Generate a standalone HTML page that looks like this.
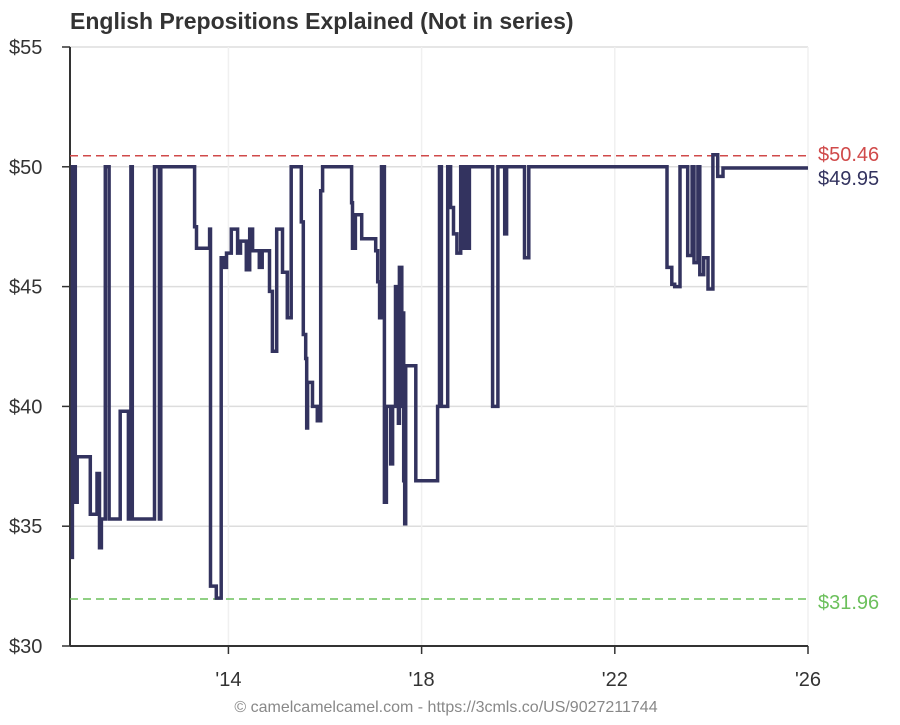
<!DOCTYPE html>
<html><head><meta charset="utf-8"><style>
body{margin:0;background:#fff;font-family:"Liberation Sans",sans-serif}
svg text{font-family:"Liberation Sans",sans-serif}
</style></head><body>
<svg id="chart" width="900" height="720" xmlns="http://www.w3.org/2000/svg">
<text x="70" y="29" font-size="23" font-weight="bold" fill="#333">English Prepositions Explained (Not in series)</text>
<g id="grid"></g>
<g id="axes"></g>
<g id="series"></g>
<text x="446" y="712" font-size="16" fill="#888" text-anchor="middle">© camelcamelcamel.com - https://3cmls.co/US/9027211744</text>
</svg>
<script>
const yTicks=[30,35,40,45,50,55];
const xTickYears=[2014,2018,2022,2026];
const xTickLabels=["'14","'18","'22","'26"];
const dates=[2010.73,2010.77,2010.83,2010.87,2011.14,2011.28,2011.33,2011.37,2011.45,2011.53,2011.76,2011.93,2011.98,2012.01,2012.47,2012.57,2012.60,2013.30,2013.34,2013.61,2013.63,2013.75,2013.85,2013.92,2013.96,2014.06,2014.19,2014.25,2014.37,2014.44,2014.50,2014.64,2014.70,2014.85,2014.91,2015.00,2015.12,2015.22,2015.30,2015.51,2015.55,2015.60,2015.62,2015.64,2015.74,2015.84,2015.91,2015.95,2016.55,2016.57,2016.63,2016.76,2017.05,2017.09,2017.13,2017.17,2017.23,2017.27,2017.36,2017.40,2017.46,2017.52,2017.54,2017.59,2017.61,2017.63,2017.65,2017.67,2017.88,2018.33,2018.37,2018.41,2018.54,2018.60,2018.66,2018.73,2018.81,2018.85,2018.91,2018.95,2018.99,2019.47,2019.58,2019.72,2019.76,2020.13,2020.22,2023.08,2023.18,2023.24,2023.35,2023.51,2023.60,2023.64,2023.72,2023.76,2023.84,2023.93,2024.03,2024.13,2024.24,2026.0];
const prices=[33.7,50,36,37.9,35.5,37.2,34.1,35.3,50,35.3,39.8,35.3,50,35.3,50,35.3,50,47.5,46.6,47.4,32.5,32.0,46.2,45.8,46.4,47.4,46.4,46.9,45.7,47.4,46.5,45.8,46.5,44.8,42.3,47.4,45.6,43.7,50,47.7,43,42,39.1,41,40,39.4,49.0,50,48.5,46.6,48,47.0,46.5,45.2,43.7,50,36,40,37.6,40,45,39.3,45.8,40,43.9,36.9,35.1,41.7,36.9,40,50,40,50,48.3,47.2,46.4,50,46.6,50,46.6,50,40,50,47.2,50,46.2,50,45.8,45.1,45.0,50,46.3,50,46.0,50,45.5,46.2,44.9,50.5,49.6,49.95,49.95];
const highPrice=50.46, lowPrice=31.96, lastPrice=49.95;
const X0=70,X1=808,Y0=646,Y1=47,xMin=2010.72,xMax=2026,yMin=30,yMax=55;
const xs=v=>X0+(v-xMin)/(xMax-xMin)*(X1-X0);
const ys=v=>Y0-(v-yMin)/(yMax-yMin)*(Y0-Y1);
const NS="http://www.w3.org/2000/svg";
function mk(t,a,p){const e=document.createElementNS(NS,t);for(const k in a)e.setAttribute(k,a[k]);p.appendChild(e);return e;}
const grid=document.getElementById('grid'),axes=document.getElementById('axes'),ser=document.getElementById('series');
yTicks.forEach(v=>{
 const l=mk('line',{x1:X0,x2:X1,y1:ys(v),y2:ys(v),stroke:'#ddd','stroke-width':1.5},grid);
 
 
 const tk=mk('line',{x1:X0-8,x2:X0,y1:ys(v),y2:ys(v),stroke:'#333','stroke-width':1.5},axes);
 
 
 const t=mk('text',{x:9,y:ys(v)+7,'font-size':20,fill:'#333'},axes);t.textContent='$'+v;
 
 
});
xTickYears.forEach((v,i)=>{
 const l=mk('line',{x1:xs(v),x2:xs(v),y1:Y1,y2:Y0,stroke:'#f0f0f0','stroke-width':1.5},grid);
 
 
 const tk=mk('line',{x1:xs(v),x2:xs(v),y1:Y0,y2:Y0+8,stroke:'#333','stroke-width':1.5},axes);
 
 
 const t=mk('text',{x:xs(v),y:Y0+40,'font-size':20,fill:'#333','text-anchor':'middle'},axes);t.textContent=xTickLabels[i];
 
 
});
const ya=mk('line',{x1:X0,x2:X0,y1:Y1,y2:Y0,stroke:'#333','stroke-width':2},axes);


const xa=mk('line',{x1:X0,x2:X1,y1:Y0,y2:Y0,stroke:'#333','stroke-width':2},axes);


const hl=mk('line',{x1:X0,x2:X1,y1:ys(highPrice),y2:ys(highPrice),stroke:'#d04a4a','stroke-width':1.5,'stroke-dasharray':'8,5'},ser);


const ll=mk('line',{x1:X0,x2:X1,y1:ys(lowPrice),y2:ys(lowPrice),stroke:'#6cc05c','stroke-width':1.5,'stroke-dasharray':'8,5'},ser);


let d='M'+xs(dates[0])+','+ys(prices[0]);
for(let i=1;i<dates.length;i++){d+=' H'+xs(dates[i]).toFixed(1)+' V'+ys(prices[i]).toFixed(1);}
const p=mk('path',{d:d,fill:'none',stroke:'#33335f','stroke-width':3.5},ser);


const labs=[[highPrice,'#d04a4a',5,'high-price-label'],[lastPrice,'#33335f',17,'current-price-label'],[lowPrice,'#6cc05c',10,'low-price-label']];
labs.forEach(a=>{const t=mk('text',{x:818,y:ys(a[0])+a[2],'font-size':20,fill:a[1]},ser);t.textContent='$'+a[0].toFixed(2);
 
 });
</script>
</body></html>
